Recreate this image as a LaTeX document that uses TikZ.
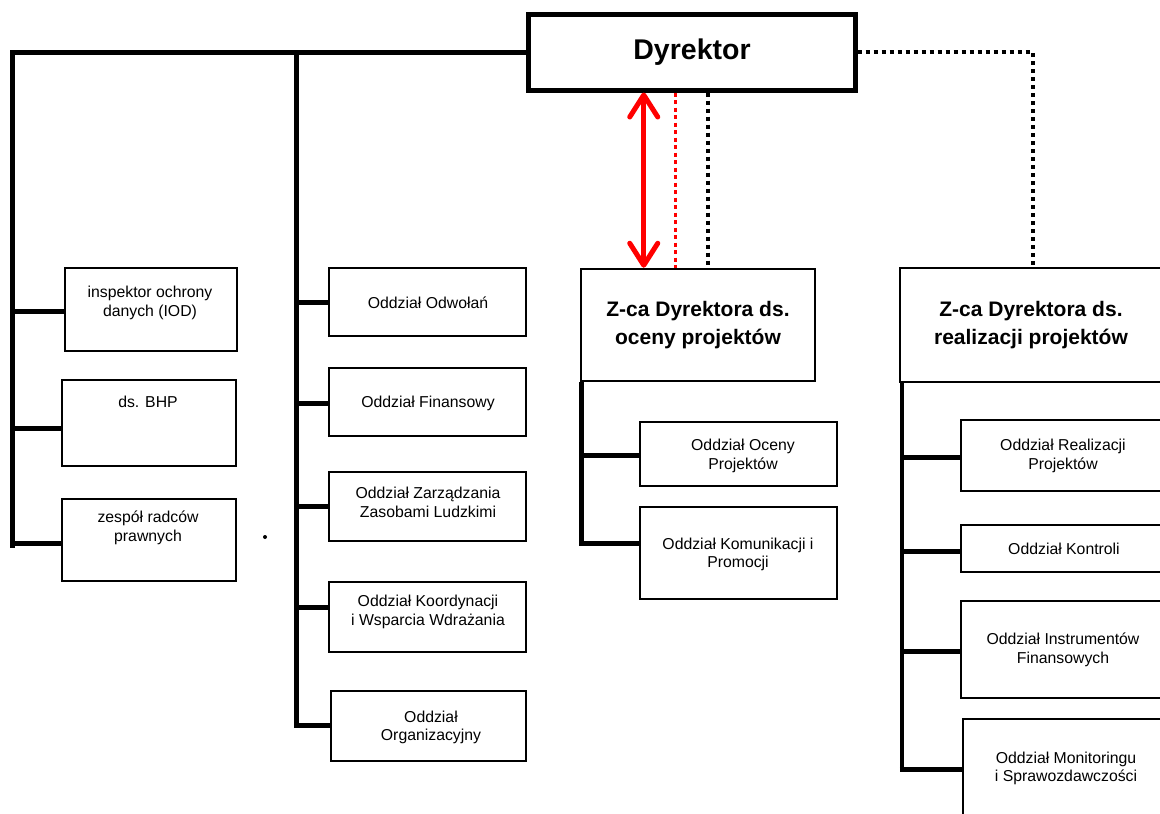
\documentclass[tikz,border=0pt]{standalone}
\usepackage{fontspec}
\setmainfont{Liberation Sans}
\usetikzlibrary{arrows.meta}
\tikzset{
  box/.style={draw=black, line width=2pt, fill=white, inner sep=0pt},
  bigbox/.style={draw=black, line width=2.5pt, fill=white, inner sep=0pt},
  dirbox/.style={draw=black, line width=5pt, fill=white, inner sep=0pt},
  txt/.style={inner sep=0pt, align=center, font=\fontsize{15.8}{18.5}\selectfont},
  ztxt/.style={inner sep=0pt, align=center, font=\bfseries\fontsize{21}{28}\selectfont},
  conn/.style={draw=black, line width=5pt},
  vconn/.style={draw=black, line width=4pt},
  blackdots/.style={draw=black, line width=4pt, dash pattern=on 4pt off 4pt},
  reddots/.style={draw=red, line width=3pt, dash pattern=on 4pt off 3.5pt},
  redarrow/.style={draw=red, line width=5pt, {Straight Barb[length=22pt,width=28pt,round]}-{Straight Barb[length=22pt,width=28pt,round]}}
}
\begin{document}
\begin{tikzpicture}[x=1pt,y=-1pt]
\useasboundingbox (0,0) rectangle (1160,814);
\clip (0,0) rectangle (1160,814);
\fill[white] (0,0) rectangle (1160,814);

% coordinates for free ends
\coordinate (tl) at (12,52);
\coordinate (lb) at (12,545);
\coordinate (mt) at (296,52);
\coordinate (mb) at (296,725);

% main connectors (drawn first, boxes cover ends)
\draw[conn, line cap=rect] (lb) -- (tl) -- (mt) -- (mb);

% Dyrektor
\node[dirbox, minimum width=327pt, minimum height=76pt] (dyr) at (691.5,52) {};
\draw[conn] (mt) -- (dyr.west);
\node[inner sep=0pt, font=\bfseries\fontsize{28.5}{34}\selectfont] (dyrt) at (692,52) {Dyrektor};

% left column
\node[box, minimum width=172pt, minimum height=83pt] (iod) at (151,309.5) {};
\node[box, minimum width=174pt, minimum height=86pt] (bhp) at (149,423) {};
\node[box, minimum width=174pt, minimum height=82pt] (rad) at (149,540) {};
\draw[conn] ([yshift=-1.5pt]iod.west) -- ([yshift=-1.5pt]iod.west -| tl);
\draw[conn] ([yshift=-5pt]bhp.west) -- ([yshift=-5pt]bhp.west -| tl);
\draw[conn] ([yshift=-3pt]rad.west) -- ([yshift=-3pt]rad.west -| tl);
\node[txt] (iodt) at (150,303) {inspektor ochrony\\danych (IOD)};
\node[txt] (bhpt) at (148,402) {ds. BHP};
\node[txt] (radt) at (148,528) {zespół radców\\prawnych};
\fill[black] (265,537) circle (2pt);

% middle column
\node[box, minimum width=197pt, minimum height=68pt] (odw) at (427.5,302) {};
\node[box, minimum width=197pt, minimum height=68pt] (fin) at (427.5,402) {};
\node[box, minimum width=197pt, minimum height=69pt] (zzl) at (427.5,506.5) {};
\node[box, minimum width=197pt, minimum height=70pt] (kwd) at (427.5,617) {};
\node[box, minimum width=195pt, minimum height=70pt] (org) at (428.5,726) {};
\draw[conn] (odw.west) -- (odw.west -| mt);
\draw[conn] ([yshift=-1pt]fin.west) -- ([yshift=-1pt]fin.west -| mt);
\draw[conn] (zzl.west) -- (zzl.west -| mt);
\draw[conn] ([yshift=10pt]kwd.west) -- ([yshift=10pt]kwd.west -| mt);
\draw[conn] ([yshift=1pt]org.west) -- ([yshift=1pt]org.west -| mt);
\node[txt] (odwt) at (428,303) {Oddział Odwołań};
\node[txt] (fint) at (428,403) {Oddział Finansowy};
\node[txt] (zzlt) at (428,502.5) {Oddział Zarządzania\\Zasobami Ludzkimi};
\node[txt] (kwdt) at (428,612) {Oddział Koordynacji\\i Wsparcia Wdrażania};
\node[txt] (orgt) at (431,727.5) {Oddział\\Organizacyjny};

% Z-ca oceny
\node[bigbox, minimum width=234pt, minimum height=112pt] (zoc) at (698,325) {};
\node[ztxt] (zoct) at (698,325) {Z-ca Dyrektora ds.\\oceny projektów};
\draw[redarrow] ([xshift=64pt]zoc.north west |- dyr.south) -- ([xshift=64pt]zoc.north west);
\draw[reddots] ([xshift=96pt]zoc.north west |- dyr.south) -- ([xshift=96pt]zoc.north west);
\draw[blackdots] ([xshift=128pt]zoc.north west |- dyr.south) -- ([xshift=128pt,yshift=2pt]zoc.north west);

\node[box, minimum width=197pt, minimum height=64pt] (oce) at (738.5,454) {};
\node[box, minimum width=197pt, minimum height=92pt] (kom) at (738.5,553) {};
\coordinate (zocb) at ([xshift=2pt]zoc.south west);
\draw[conn] (zocb) -- ([yshift=10pt]kom.west -| zocb) -- ([yshift=10pt]kom.west);
\draw[conn] ([yshift=-1pt]oce.west) -- ([yshift=-1pt]oce.west -| zocb);
\node[txt] (ocet) at (743,456) {Oddział Oceny\\Projektów};
\node[txt] (komt) at (738,554.5) {Oddział Komunikacji i\\Promocji};

% Z-ca realizacji
\node[bigbox, minimum width=265pt, minimum height=114pt] (zre) at (1032.5,325) {};
\node[ztxt] (zret) at (1031,325) {Z-ca Dyrektora ds.\\realizacji projektów};
\draw[blackdots] (dyr.east) -| (zre.north);

\node[box, minimum width=205pt, minimum height=71pt] (rea) at (1063.5,455.5) {};
\node[box, minimum width=205pt, minimum height=47pt] (kon) at (1063.5,548.5) {};
\node[box, minimum width=205pt, minimum height=97pt] (ins) at (1063.5,649.5) {};
\node[box, minimum width=203pt, minimum height=101pt] (mon) at (1064.5,769.5) {};
\coordinate (zreb) at ([xshift=3pt]zre.south west);
\draw[vconn] (zreb) -- (mon.west -| zreb);
\draw[conn] ([xshift=-2pt]mon.west -| zreb) -- (mon.west);
\draw[conn] ([yshift=-1.5pt]rea.west) -- ([yshift=-1.5pt]rea.west -| zreb);
\draw[conn] ([yshift=-2.5pt]kon.west) -- ([yshift=-2.5pt]kon.west -| zreb);
\draw[conn] ([yshift=-1.5pt]ins.west) -- ([yshift=-1.5pt]ins.west -| zreb);
\node[txt] (reat) at (1063,456) {Oddział Realizacji\\Projektów};
\node[txt] (kont) at (1064,549) {Oddział Kontroli};
\node[txt] (inst) at (1063,650) {Oddział Instrumentów\\Finansowych};
\node[txt] (mont) at (1066,768.5) {Oddział Monitoringu\\i Sprawozdawczości};
\end{tikzpicture}
\end{document}
